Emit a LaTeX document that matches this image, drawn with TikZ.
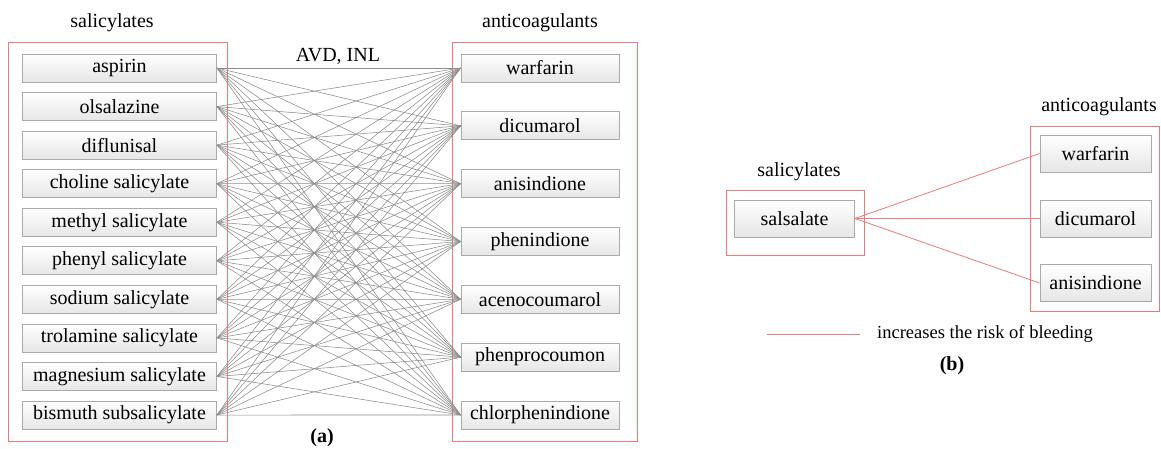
\documentclass[tikz,border=0pt]{standalone}
\usepackage{fontspec}
\setmainfont{Liberation Serif}
\definecolor{redl}{RGB}{240,120,120}
\definecolor{boxline}{RGB}{170,170,170}
\definecolor{boxbot}{RGB}{230,230,230}
\definecolor{linkc}{RGB}{140,140,140}
\begin{document}
\begin{tikzpicture}[x=1pt,y=-1pt,
  box/.style={draw=boxline, line width=0.8pt, top color=white, bottom color=boxbot, inner sep=0pt, font=\fontsize{20}{24}\selectfont},
  lbox/.style={box, minimum width=194pt, minimum height=28pt},
  rbox/.style={box, minimum width=158pt, minimum height=28pt},
  bbox/.style={box, minimum height=37pt},
  grp/.style={draw=redl, line width=0.8pt, inner sep=0pt},
  lbl/.style={font=\fontsize{20}{24}\selectfont, inner sep=0pt},
  captxt/.style={font=\fontsize{20}{24}\selectfont\bfseries, inner sep=0pt},
  linkline/.style={draw=linkc, line width=0.55pt},
  redline/.style={draw=redl, line width=0.8pt}]
\useasboundingbox (0,0) rectangle (1161,449);

% ---------- (a) ----------
\node[grp, minimum width=219pt, minimum height=399pt] (Lg) at (117.5,241.5) {};
\node[grp, minimum width=185pt, minimum height=399pt] (Rg) at (544.5,241.5) {};
\node[lbl] (tLa) at (112,23) {salicylates};
\node[lbl] (tRa) at (540,23) {anticoagulants};
\node[lbl] (avd) at (338,56) {AVD, INL};
\node[captxt] (capa) at (322,438) {(a)};

\foreach \n [count=\i] in {aspirin, olsalazine, diflunisal, choline salicylate, methyl salicylate, phenyl salicylate, sodium salicylate, trolamine salicylate, magnesium salicylate, bismuth subsalicylate}
  \node[lbox] (l\i) at (119.5, 68+38.56*\i-38.56) {\n};

\foreach \n [count=\j] in {warfarin, dicumarol, anisindione, phenindione, acenocoumarol, phenprocoumon, chlorphenindione}
  \node[rbox] (r\j) at (540, 68+57.83*\j-57.83) {\n};

\foreach \i in {1,...,10}
  \foreach \j in {1,...,7}
    \draw[linkline] (l\i.east) -- (r\j.west);

% ---------- (b) ----------
\node[grp, minimum width=138pt, minimum height=65pt] (Lgb) at (795,222.5) {};
\node[grp, minimum width=129pt, minimum height=185pt] (Rgb) at (1094.5,218.5) {};
\node[lbl] (tLb) at (799,172) {salicylates};
\node[lbl] (tRb) at (1099,107) {anticoagulants};
\node[bbox, minimum width=120pt] (s1) at (794.5,218.5) {salsalate};
\node[bbox, minimum width=111pt] (b1) at (1095.5,153.5) {warfarin};
\node[bbox, minimum width=111pt] (b2) at (1095.5,218.5) {dicumarol};
\node[bbox, minimum width=111pt] (b3) at (1095.5,283) {anisindione};
\foreach \k in {1,2,3}
  \draw[redline] (s1.east) -- (b\k.west);

\coordinate (lgA) at (767,334);
\coordinate (lgB) at (860,334);
\draw[redline] (lgA) -- (lgB);
\node[font=\fontsize{18.5}{22}\selectfont, inner sep=0pt, anchor=west] (lgt) at (877,334) {increases the risk of bleeding};
\node[captxt] (capb) at (952,366) {(b)};
\end{tikzpicture}
\end{document}
